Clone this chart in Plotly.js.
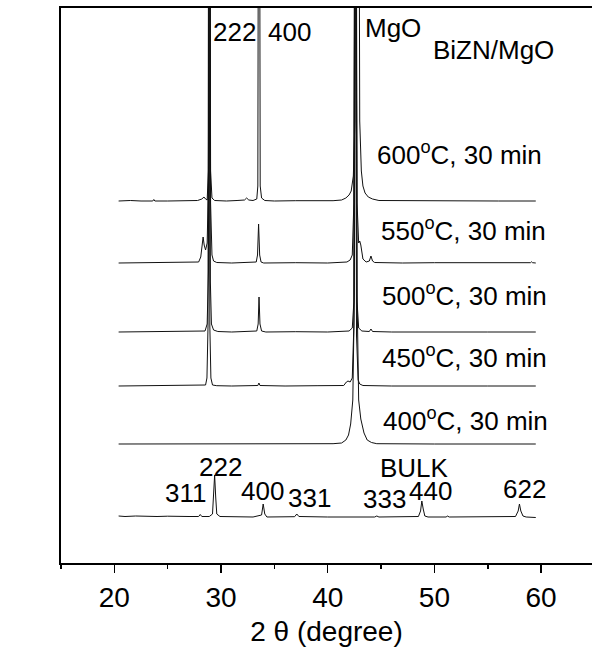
<!DOCTYPE html>
<html>
<head>
<meta charset="utf-8">
<script src="https://cdn.plot.ly/plotly-3.0.1.min.js"></script>
<style>html,body{margin:0;padding:0;overflow:hidden;background:#fff}</style>
</head>
<body>
<div id="chart" style="width:592px;height:649px"></div>
<script>
// Stacked XRD patterns, 2θ in degrees, intensity in arbitrary units above each pattern's baseline
const seriesNames = ["600°C", "550°C", "500°C", "450°C", "400°C", "BULK"];
const offsets = [362, 300, 231, 177, 119, 46];

const x600 = [20.4, 21.5, 22.5, 23.6, 23.7, 23.8, 25.0, 26.5, 27.8, 28.2, 28.4, 28.55, 28.7, 28.82, 28.92, 29.02, 29.15, 29.4, 30.5, 31.5, 32.2, 32.4, 32.6, 33.0, 33.35, 33.45, 33.56, 33.67, 33.8, 34.1, 35.0, 37.0, 39.0, 40.5, 41.3, 41.7, 42.0, 42.2, 42.4, 42.55, 42.7, 42.85, 43.0, 43.15, 43.3, 43.5, 43.8, 44.2, 44.8, 47.0, 50.0, 53.0, 56.0, 59.5];
const y600 = [0, 0.5, 0, 0, 1.5, 0, 0, 0.5, 0.5, 2, 4, 2, 1, 30, 700, 30, 3, 0.5, 0, 0.5, 1, 3, 1, 0.5, 2, 15, 700, 15, 3, 0.5, 0, 0.3, 0, 0.3, 1, 3, 6, 10, 25, 80, 700, 700, 80, 30, 15, 8, 4, 2, 0.5, 0.3, 0, 0.3, 0, 0];

const x550 = [20.4, 22.0, 24.0, 26.0, 27.9, 28.1, 28.25, 28.32, 28.42, 28.55, 28.7, 28.82, 28.92, 29.02, 29.15, 29.3, 29.6, 31.0, 33.3, 33.42, 33.52, 33.62, 33.75, 34.0, 37.0, 40.0, 41.8, 42.1, 42.3, 42.45, 42.6, 42.75, 42.9, 43.0, 43.1, 43.3, 43.6, 43.9, 44.05, 44.2, 44.4, 47.0, 50.0, 54.0, 59.0, 59.1, 59.2, 59.5];
const y550 = [0, 0.3, 0, 0.3, 1, 6, 22, 26, 18, 13, 20, 80, 700, 60, 8, 2, 0.5, 0, 1, 8, 39, 8, 1, 0, 0.3, 0, 1, 3, 8, 60, 700, 60, 20, 22, 18, 4, 1, 2, 7, 2, 0.5, 0, 0.3, 0, 0.3, 1.2, 0.3, 0];

const x500 = [20.4, 22.0, 24.0, 26.0, 28.5, 28.7, 28.82, 28.9, 29.0, 29.1, 29.3, 29.7, 31.0, 33.35, 33.48, 33.56, 33.65, 33.8, 34.2, 37.0, 40.0, 42.0, 42.2, 42.3, 42.45, 42.6, 42.75, 42.9, 43.2, 43.9, 44.05, 44.2, 46.0, 50.0, 55.0, 59.5];
const y500 = [0, 0.3, 0, 0.3, 1, 8, 60, 700, 50, 8, 2, 0.5, 0, 1, 8, 35, 8, 1, 0, 0.3, 0, 1, 3, 4, 30, 700, 30, 4, 1, 0.5, 3, 0.5, 0, 0.3, 0, 0];

const x450 = [20.4, 22.0, 24.0, 26.0, 28.55, 28.68, 28.78, 28.85, 28.95, 29.05, 29.2, 29.6, 31.0, 33.45, 33.55, 33.65, 36.0, 39.0, 41.5, 41.75, 41.9, 42.1, 42.3, 42.45, 42.55, 42.7, 42.85, 43.0, 43.3, 46.0, 50.0, 55.0, 59.5];
const y450 = [0, 0.3, 0, 0.3, 1, 8, 60, 700, 60, 8, 1, 0.3, 0, 0.5, 3, 0.5, 0, 0.3, 0.5, 4, 5, 4, 8, 60, 700, 50, 6, 2, 0.5, 0, 0.3, 0, 0];

const x400 = [20.4, 25.0, 30.0, 35.0, 40.5, 41.3, 41.7, 41.95, 42.15, 42.35, 42.5, 42.6, 42.75, 42.9, 43.1, 43.4, 43.7, 44.1, 44.6, 50.0, 55.0, 59.5];
const y400 = [0, 0, 0, 0, 0.3, 1, 4, 9, 20, 44, 150, 700, 150, 44, 25, 11, 4, 1.5, 0.3, 0, 0, 0];

const xBulk = [20.4, 21.0, 22.0, 23.0, 24.0, 25.0, 26.0, 27.0, 27.9, 28.05, 28.2, 28.9, 29.2, 29.3, 29.4, 29.5, 29.6, 29.9, 31.0, 33.0, 33.8, 33.95, 34.1, 34.3, 36.9, 37.1, 37.3, 40.0, 44.4, 44.6, 44.8, 48.5, 48.7, 48.82, 48.95, 49.1, 49.4, 51.1, 51.2, 51.4, 57.6, 57.85, 57.97, 58.1, 58.3, 58.6, 59.5];
const yBulk = [1, 0.5, 1, 0.5, 0.5, 0.8, 0.3, 0.5, 0.5, 2.5, 0.5, 0.5, 3, 20, 42, 20, 3, 0.5, 0.3, 0, 2, 13, 3, 0, 0.3, 3, 0.5, 0, 0, 1, 0, 0.5, 6, 16, 8, 1, 0, 0, 1, 0, 0.5, 6, 13, 6, 1, 0, -0.5];

const xSeries = [x600, x550, x500, x450, x400, xBulk];
const ySeries = [y600, y550, y500, y450, y400, yBulk];

// Labels
const sampleLabels = ["600<sup>o</sup>C, 30 min", "550<sup>o</sup>C, 30 min", "500<sup>o</sup>C, 30 min", "450<sup>o</sup>C, 30 min", "400<sup>o</sup>C, 30 min", "BULK"];
const peakLabels = ["222", "400", "MgO", "311", "222", "400", "331", "333", "440", "622"];
const filmTitle = "BiZN/MgO";
const xTitle = "2 θ (degree)";
const yTitle = "intensity (a. u.)";
const xTickVals = [20, 30, 40, 50, 60];

const FONT = "Liberation Sans, Arial, sans-serif";

const traces = xSeries.map((xs, i) => ({
  type: "scatter",
  mode: "lines",
  name: seriesNames[i],
  x: xs,
  y: ySeries[i].map(v => v + offsets[i]),
  line: {color: "#111", width: 1},
  hoverinfo: "skip"
}));

function ann(text, x, y, size, extra) {
  return Object.assign({text: text, x: x, y: y, xref: "x", yref: "y", showarrow: false,
    xanchor: "center", yanchor: "middle", font: {family: FONT, size: size, color: "#000"}}, extra || {});
}

const sampleLabelPos = [[52.35, 410], [52.68, 334], [52.8, 269], [52.8, 207], [52.9, 144], [48.1, 95]];
const peakLabelPos = [[31.25, 531], [36.4, 531], [46.16, 535], [26.66, 70], [29.96, 96], [33.87, 72], [38.28, 65], [45.3, 64], [49.6, 72], [58.4, 74]];

const annotations = [];
sampleLabels.forEach((t, i) => annotations.push(ann(t, sampleLabelPos[i][0], sampleLabelPos[i][1], 26)));
peakLabels.forEach((t, i) => annotations.push(ann(t, peakLabelPos[i][0], peakLabelPos[i][1], 26)));
annotations.push(ann(filmTitle, 55.5, 513, 26));
annotations.push(ann(yTitle, 11.5, 290, 28, {textangle: -90}));

const layout = {
  width: 592, height: 649,
  margin: {l: 61, r: 0, t: 8, b: 86, pad: 0},
  paper_bgcolor: "#fff", plot_bgcolor: "#fff",
  showlegend: false,
  font: {family: FONT, size: 28, color: "#000"},
  xaxis: {
    range: [15, 64.77], showgrid: false, zeroline: false,
    showline: true, linecolor: "#000", linewidth: 2, mirror: true,
    ticks: "outside", ticklen: 8, tickwidth: 1.5, tickcolor: "#000",
    tickvals: xTickVals, ticktext: xTickVals.map(String),
    tickfont: {family: FONT, size: 28, color: "#000"},
    minor: {dtick: 5, tick0: 15, ticks: "outside", ticklen: 4, tickwidth: 1.5, tickcolor: "#000", showgrid: false},
    title: {text: xTitle, font: {family: FONT, size: 28, color: "#000"}, standoff: 10}
  },
  yaxis: {
    range: [0, 555], showgrid: false, zeroline: false,
    showline: true, linecolor: "#000", linewidth: 2, mirror: false,
    ticks: "", showticklabels: false
  },
  annotations: annotations
};

Plotly.newPlot("chart", traces, layout, {displayModeBar: false, staticPlot: true});
</script>
</body>
</html>
